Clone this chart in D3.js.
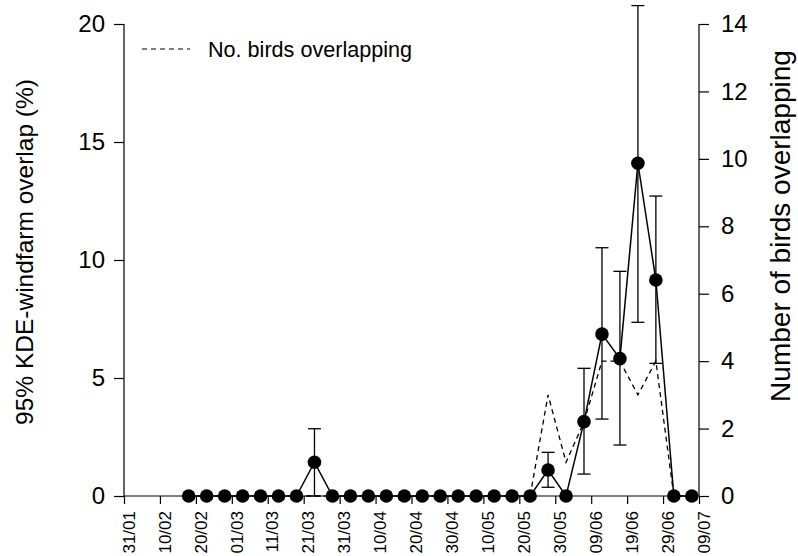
<!DOCTYPE html>
<html>
<head>
<meta charset="utf-8">
<script src="https://cdn.jsdelivr.net/npm/d3@7"></script>
<style>
  html, body { margin: 0; padding: 0; background: #fff; }
  svg { display: block; font-family: "Liberation Sans", Arial, Helvetica, sans-serif; }
</style>
</head>
<body>
<svg id="chart" width="798" height="556"></svg>
<script>
// ---- data ----
const tickDays   = [0, 10, 20, 30, 40, 50, 60, 70, 80, 90, 100, 110, 120, 130, 140, 150, 160];
const tickLabels = ["31/01","10/02","20/02","01/03","11/03","21/03","31/03","10/04","20/04","30/04","10/05","20/05","30/05","09/06","19/06","29/06","09/07"];

// sampling dates, days after 31/01
const pointDays = [18, 23, 28, 33, 38, 43, 48, 53, 58, 63, 68, 73, 78, 83, 88, 93, 98, 103, 108, 113, 118, 123, 128, 133, 138, 143, 148, 153, 158];

// 95% KDE-windfarm overlap (%)
const overlap = [0, 0, 0, 0, 0, 0, 0, 1.43, 0, 0, 0, 0, 0, 0, 0, 0, 0, 0, 0, 0, 1.1, 0, 3.15, 6.86, 5.82, 14.1, 9.15, 0, 0];
const errLow  = [null, null, null, null, null, null, null, 0, null, null, null, null, null, null, null, null, null, null, null, null, 0.37, null, 0.93, 3.26, 2.16, 7.36, 5.62, null, null];
const errHigh = [null, null, null, null, null, null, null, 2.85, null, null, null, null, null, null, null, null, null, null, null, null, 1.85, null, 5.41, 10.52, 9.52, 20.78, 12.71, null, null];

// number of birds overlapping (right axis)
const birds = [0, 0, 0, 0, 0, 0, 0, 0, 0, 0, 0, 0, 0, 0, 0, 0, 0, 0, 0, 0, 3, 1, 2.2, 4, 4, 3, 4, 0, 0];

const leftTicks  = [0, 5, 10, 15, 20];
const rightTicks = [0, 2, 4, 6, 8, 10, 12, 14];

// ---- layout ----
const svg = d3.select("#chart");
const X0 = 124, X1 = 699, Y0 = 496, Y1 = 24;

const x  = d3.scaleLinear().domain([0, 160]).range([X0, X1]);
const yL = d3.scaleLinear().domain([0, 20]).range([Y0, Y1]);
const yR = d3.scaleLinear().domain([0, 14]).range([Y0, Y1]);

// left axis
const gL = svg.append("g").attr("transform", `translate(${X0},0)`)
  .call(d3.axisLeft(yL).tickValues(leftTicks).tickSize(10).tickPadding(9).tickFormat(d3.format("d")));
// right axis
const gR = svg.append("g").attr("transform", `translate(${X1},0)`)
  .call(d3.axisRight(yR).tickValues(rightTicks).tickSize(10).tickPadding(12).tickFormat(d3.format("d")));
[gL, gR].forEach(g => {
  g.select(".domain").attr("d", `M0,${Y0}V${Y1}`).attr("stroke", "#000").attr("stroke-width", 1.2);
  g.selectAll(".tick line").attr("stroke", "#000").attr("stroke-width", 1.2);
  g.selectAll(".tick text").attr("fill", "#000").style("font-size", "24px");
});

// bottom axis
const gB = svg.append("g").attr("transform", `translate(0,${Y0})`)
  .call(d3.axisBottom(x).tickValues(tickDays).tickSize(8).tickFormat((d, i) => tickLabels[i]));
gB.select(".domain").attr("d", `M${X0},0H${X1}`).attr("stroke", "#000").attr("stroke-width", 1.2);
gB.selectAll(".tick line").attr("stroke", "#000").attr("stroke-width", 1.2);
gB.selectAll(".tick text")
  .attr("fill", "#000")
  .style("font-size", "17px")
  .attr("text-anchor", "end")
  .attr("transform", "rotate(-90)")
  .attr("x", -15).attr("y", 0).attr("dy", "0.6em");

// dashed birds line
svg.append("path")
  .datum(birds)
  .attr("fill", "none").attr("stroke", "#000").attr("stroke-width", 1.3)
  .attr("stroke-dasharray", "5,4")
  .attr("d", d3.line().x((d, i) => x(pointDays[i])).y(d => yR(d)));

// error bars
const eb = svg.append("g");
overlap.forEach((v, i) => {
  if (errHigh[i] == null) return;
  const cx = x(pointDays[i]);
  eb.append("line").attr("x1", cx).attr("x2", cx).attr("y1", yL(errLow[i])).attr("y2", yL(errHigh[i]))
    .attr("stroke", "#000").attr("stroke-width", 1.3);
  [errLow[i], errHigh[i]].forEach(e => {
    eb.append("line").attr("x1", cx - 6.5).attr("x2", cx + 6.5).attr("y1", yL(e)).attr("y2", yL(e))
      .attr("stroke", "#000").attr("stroke-width", 1.3);
  });
});

// solid overlap line
svg.append("path")
  .datum(overlap)
  .attr("fill", "none").attr("stroke", "#000").attr("stroke-width", 1.5)
  .attr("d", d3.line().x((d, i) => x(pointDays[i])).y(d => yL(d)));

// points
svg.append("g").selectAll("circle").data(overlap).join("circle")
  .attr("cx", (d, i) => x(pointDays[i])).attr("cy", d => yL(d)).attr("r", 6.8).attr("fill", "#000");

// legend
svg.append("line").attr("x1", 142).attr("x2", 190).attr("y1", 49).attr("y2", 49)
  .attr("stroke", "#000").attr("stroke-width", 1.2).attr("stroke-dasharray", "5,4");
svg.append("text").attr("x", 208).attr("y", 49).attr("dy", "0.35em")
  .style("font-size", "21.6px").text("No. birds overlapping");

// axis titles
svg.append("text").attr("transform", `translate(33,252) rotate(-90)`)
  .attr("text-anchor", "middle").style("font-size", "24.5px").text("95% KDE-windfarm overlap (%)");
svg.append("text").attr("transform", `translate(790,226) rotate(-90)`)
  .attr("text-anchor", "middle").style("font-size", "28px").text("Number of birds overlapping");
</script>
</body>
</html>
